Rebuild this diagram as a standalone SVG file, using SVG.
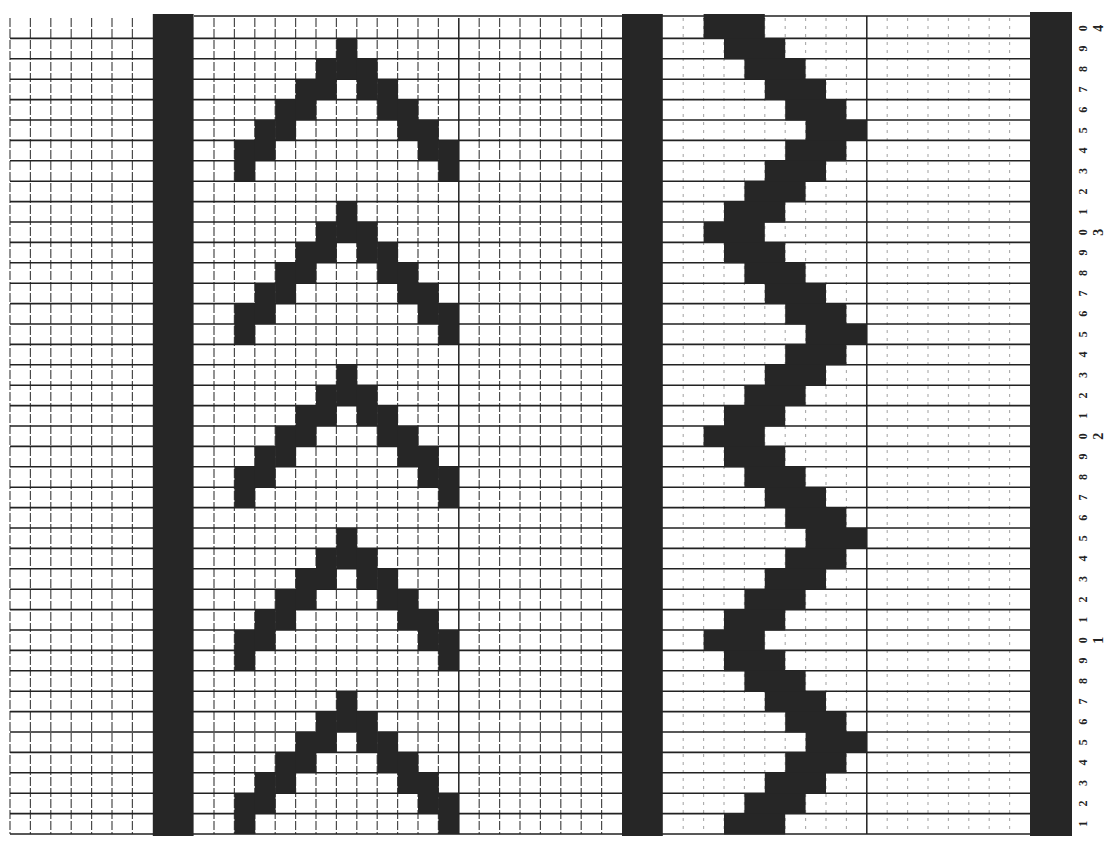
<svg xmlns="http://www.w3.org/2000/svg" xmlns:xlink="http://www.w3.org/1999/xlink" width="1106" height="846" viewBox="0 0 1106 846">
<style>
.bg{fill:#ffffff}
.hl{stroke:#222222;stroke-width:1.6;fill:none}
.vl{stroke:#4a4a4a;stroke-width:1.2;stroke-dasharray:9 2;fill:none}
.vd{stroke:#222222;stroke-width:1.5;fill:none}
.vf{stroke:#aaaaaa;stroke-width:1.1;stroke-dasharray:3 5;fill:none}
.blk{fill:#262626}
.num{font-family:"Liberation Serif",serif;font-size:12px;font-weight:bold;fill:#222;text-anchor:middle;dominant-baseline:central}
.big{font-family:"Liberation Serif",serif;font-size:14px;font-weight:bold;fill:#222;text-anchor:middle;dominant-baseline:central}
</style>
<defs>
<g id="chev" class="blk">
<rect x="234.4" y="102" width="20.8" height="40.8"/>
<rect x="254.8" y="81.6" width="20.8" height="40.8"/>
<rect x="275.2" y="61.2" width="20.8" height="40.8"/>
<rect x="295.6" y="40.8" width="20.8" height="40.8"/>
<rect x="316" y="20.4" width="20.8" height="40.8"/>
<rect x="336.4" y="0" width="20.8" height="40.8"/>
<rect x="356.8" y="20.4" width="20.8" height="40.8"/>
<rect x="377.2" y="40.8" width="20.8" height="40.8"/>
<rect x="397.6" y="61.2" width="20.8" height="40.8"/>
<rect x="418" y="81.6" width="20.8" height="40.8"/>
<rect x="438.4" y="102" width="20.4" height="40.8"/>
</g>
<g id="zig" class="blk">
<rect x="703.6" y="0" width="61.2" height="20.8"/>
<rect x="724" y="20.4" width="61.2" height="20.8"/>
<rect x="744.4" y="40.8" width="61.2" height="20.8"/>
<rect x="764.8" y="61.2" width="61.2" height="20.8"/>
<rect x="785.2" y="81.6" width="61.2" height="20.8"/>
<rect x="805.6" y="102" width="61.2" height="20.8"/>
<rect x="785.2" y="122.4" width="61.2" height="20.8"/>
<rect x="764.8" y="142.8" width="61.2" height="20.8"/>
<rect x="744.4" y="163.2" width="61.2" height="20.8"/>
<rect x="724" y="183.6" width="61.2" height="20.8"/>
</g>
</defs>
<rect class="bg" x="0" y="0" width="1106" height="846"/>
<g id="grid">
<path class="vl" d="M10 18V834M30.4 18V834M50.8 18V834M71.2 18V834M91.6 18V834M112 18V834M132.4 18V834M214 18V834M234.4 18V834M254.8 18V834M275.2 18V834M295.6 18V834M316 18V834M336.4 18V834M356.8 18V834M377.2 18V834M397.6 18V834M418 18V834M438.4 18V834M479.2 18V834M499.6 18V834M520 18V834M540.4 18V834M560.8 18V834M581.2 18V834M601.6 18V834"/>
<path class="vf" d="M683.2 18V834M703.6 18V834M724 18V834M744.4 18V834M764.8 18V834M785.2 18V834M805.6 18V834M826 18V834M846.4 18V834M887.2 18V834M907.6 18V834M928 18V834M948.4 18V834M968.8 18V834M989.2 18V834M1009.6 18V834"/>
<path class="vd" d="M458.8 18V834M866.8 16V834"/>
<path class="hl" d="M194 16H1030M10 38.4H1030M10 58.8H1030M10 79.2H1030M10 99.6H1030M10 120H1030M10 140.4H1030M10 160.8H1030M10 181.2H1030M10 201.6H1030M10 222H1030M10 242.4H1030M10 262.8H1030M10 283.2H1030M10 303.6H1030M10 324H1030M10 344.4H1030M10 364.8H1030M10 385.2H1030M10 405.6H1030M10 426H1030M10 446.4H1030M10 466.8H1030M10 487.2H1030M10 507.6H1030M10 528H1030M10 548.4H1030M10 568.8H1030M10 589.2H1030M10 609.6H1030M10 630H1030M10 650.4H1030M10 670.8H1030M10 691.2H1030M10 711.6H1030M10 732H1030M10 752.4H1030M10 772.8H1030M10 793.2H1030M10 813.6H1030M10 834H1030"/>
</g>
<g id="bars" class="blk">
<rect x="152.8" y="14" width="40.8" height="822"/>
<rect x="622" y="14" width="40.8" height="822"/>
<rect x="1030" y="12" width="42" height="824"/>
</g>
<g id="chevrons">
<use xlink:href="#chev" href="#chev" transform="translate(0,38.4)"/>
<use xlink:href="#chev" href="#chev" transform="translate(0,201.6)"/>
<use xlink:href="#chev" href="#chev" transform="translate(0,364.8)"/>
<use xlink:href="#chev" href="#chev" transform="translate(0,528)"/>
<use xlink:href="#chev" href="#chev" transform="translate(0,691.2)"/>
</g>
<g id="zigzag">
<rect class="blk" x="703.6" y="14" width="61.2" height="5"/>
<use xlink:href="#zig" href="#zig" transform="translate(0,18)"/>
<use xlink:href="#zig" href="#zig" transform="translate(0,222)"/>
<use xlink:href="#zig" href="#zig" transform="translate(0,426)"/>
<use xlink:href="#zig" href="#zig" transform="translate(0,630)"/>
</g>
<g id="row-numbers">
<text class="num" x="1083" y="28.2" transform="rotate(-90 1083 28.2)">0</text>
<text class="num" x="1083" y="48.6" transform="rotate(-90 1083 48.6)">9</text>
<text class="num" x="1083" y="69" transform="rotate(-90 1083 69)">8</text>
<text class="num" x="1083" y="89.4" transform="rotate(-90 1083 89.4)">7</text>
<text class="num" x="1083" y="109.8" transform="rotate(-90 1083 109.8)">6</text>
<text class="num" x="1083" y="130.2" transform="rotate(-90 1083 130.2)">5</text>
<text class="num" x="1083" y="150.6" transform="rotate(-90 1083 150.6)">4</text>
<text class="num" x="1083" y="171" transform="rotate(-90 1083 171)">3</text>
<text class="num" x="1083" y="191.4" transform="rotate(-90 1083 191.4)">2</text>
<text class="num" x="1083" y="211.8" transform="rotate(-90 1083 211.8)">1</text>
<text class="num" x="1083" y="232.2" transform="rotate(-90 1083 232.2)">0</text>
<text class="num" x="1083" y="252.6" transform="rotate(-90 1083 252.6)">9</text>
<text class="num" x="1083" y="273" transform="rotate(-90 1083 273)">8</text>
<text class="num" x="1083" y="293.4" transform="rotate(-90 1083 293.4)">7</text>
<text class="num" x="1083" y="313.8" transform="rotate(-90 1083 313.8)">6</text>
<text class="num" x="1083" y="334.2" transform="rotate(-90 1083 334.2)">5</text>
<text class="num" x="1083" y="354.6" transform="rotate(-90 1083 354.6)">4</text>
<text class="num" x="1083" y="375" transform="rotate(-90 1083 375)">3</text>
<text class="num" x="1083" y="395.4" transform="rotate(-90 1083 395.4)">2</text>
<text class="num" x="1083" y="415.8" transform="rotate(-90 1083 415.8)">1</text>
<text class="num" x="1083" y="436.2" transform="rotate(-90 1083 436.2)">0</text>
<text class="num" x="1083" y="456.6" transform="rotate(-90 1083 456.6)">9</text>
<text class="num" x="1083" y="477" transform="rotate(-90 1083 477)">8</text>
<text class="num" x="1083" y="497.4" transform="rotate(-90 1083 497.4)">7</text>
<text class="num" x="1083" y="517.8" transform="rotate(-90 1083 517.8)">6</text>
<text class="num" x="1083" y="538.2" transform="rotate(-90 1083 538.2)">5</text>
<text class="num" x="1083" y="558.6" transform="rotate(-90 1083 558.6)">4</text>
<text class="num" x="1083" y="579" transform="rotate(-90 1083 579)">3</text>
<text class="num" x="1083" y="599.4" transform="rotate(-90 1083 599.4)">2</text>
<text class="num" x="1083" y="619.8" transform="rotate(-90 1083 619.8)">1</text>
<text class="num" x="1083" y="640.2" transform="rotate(-90 1083 640.2)">0</text>
<text class="num" x="1083" y="660.6" transform="rotate(-90 1083 660.6)">9</text>
<text class="num" x="1083" y="681" transform="rotate(-90 1083 681)">8</text>
<text class="num" x="1083" y="701.4" transform="rotate(-90 1083 701.4)">7</text>
<text class="num" x="1083" y="721.8" transform="rotate(-90 1083 721.8)">6</text>
<text class="num" x="1083" y="742.2" transform="rotate(-90 1083 742.2)">5</text>
<text class="num" x="1083" y="762.6" transform="rotate(-90 1083 762.6)">4</text>
<text class="num" x="1083" y="783" transform="rotate(-90 1083 783)">3</text>
<text class="num" x="1083" y="803.4" transform="rotate(-90 1083 803.4)">2</text>
<text class="num" x="1083" y="823.8" transform="rotate(-90 1083 823.8)">1</text>
</g>
<g id="decade-labels">
<text class="big" x="1099" y="28.2" transform="rotate(-90 1099 28.2)">4</text>
<text class="big" x="1099" y="232.2" transform="rotate(-90 1099 232.2)">3</text>
<text class="big" x="1099" y="436.2" transform="rotate(-90 1099 436.2)">2</text>
<text class="big" x="1099" y="640.2" transform="rotate(-90 1099 640.2)">1</text>
</g>
</svg>
